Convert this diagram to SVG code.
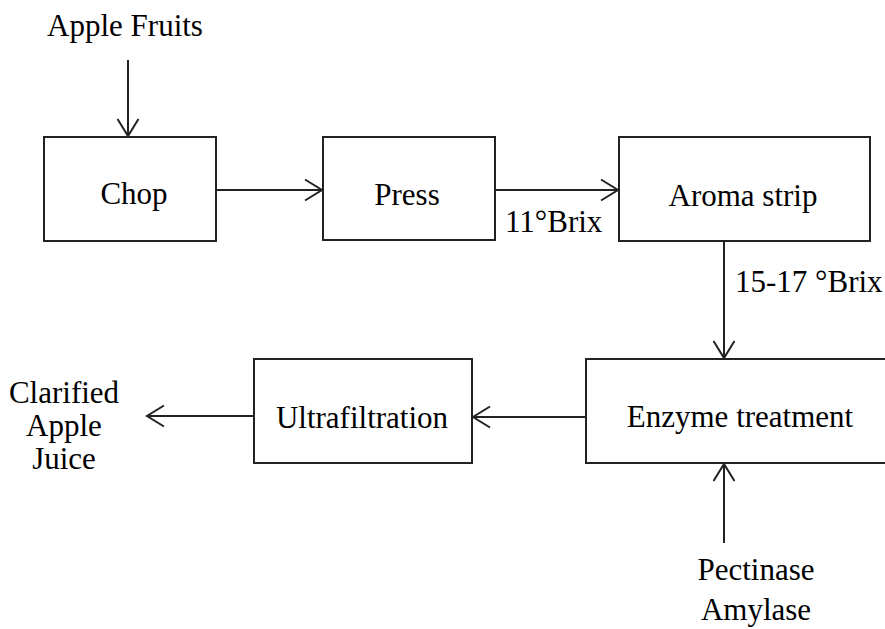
<svg xmlns="http://www.w3.org/2000/svg" width="885" height="629" viewBox="0 0 885 629">
<style>
text{font-family:"Liberation Serif","Times New Roman",serif;font-size:31px;fill:#000}
.box{fill:#fff;stroke:#222;stroke-width:2}
.c{stroke:#222;stroke-width:2;fill:none}
.m{text-anchor:middle}
</style>
<defs>
<marker id="ah" markerUnits="userSpaceOnUse" viewBox="0 0 20 24" markerWidth="20" markerHeight="24" refX="19" refY="12" orient="auto" overflow="visible">
<path d="M2,1.5 L19,12 L2,22.5" fill="none" stroke="#222" stroke-width="2"/>
</marker>
</defs>
<rect width="885" height="629" fill="#fff"/>
<g id="connectors">
<line class="c" x1="128" y1="60" x2="128" y2="136" marker-end="url(#ah)"/>
<line class="c" x1="216" y1="190" x2="322" y2="190" marker-end="url(#ah)"/>
<line class="c" x1="495" y1="190" x2="618" y2="190" marker-end="url(#ah)"/>
<line class="c" x1="724" y1="241" x2="724" y2="358" marker-end="url(#ah)"/>
<line class="c" x1="586" y1="417" x2="473" y2="417" marker-end="url(#ah)"/>
<line class="c" x1="254" y1="416" x2="147" y2="416" marker-end="url(#ah)"/>
<line class="c" x1="724" y1="543" x2="724" y2="464" marker-end="url(#ah)"/>
<text x="505" y="232">11°Brix</text>
<text x="735" y="292">15-17 °Brix</text>
</g>
<g id="apple-fruits"><text class="m" x="125" y="36">Apple Fruits</text></g>
<g id="chop"><rect class="box" x="44" y="137" width="172" height="104"/><text class="m" x="134" y="204">Chop</text></g>
<g id="press"><rect class="box" x="323" y="137" width="172" height="103"/><text class="m" x="407" y="205">Press</text></g>
<g id="aroma-strip"><rect class="box" x="619" y="137" width="251" height="104"/><text class="m" x="743" y="206">Aroma strip</text></g>
<g id="enzyme-treatment"><rect class="box" x="586" y="359" width="310" height="104"/><text class="m" x="740" y="427">Enzyme treatment</text></g>
<g id="ultrafiltration"><rect class="box" x="254" y="359" width="218" height="104"/><text class="m" x="362" y="428">Ultrafiltration</text></g>
<g id="clarified-apple-juice"><text class="m" x="64" y="403">Clarified</text><text class="m" x="64" y="436">Apple</text><text class="m" x="64" y="469">Juice</text></g>
<g id="pectinase-amylase"><text class="m" x="756" y="580">Pectinase</text><text class="m" x="756" y="620">Amylase</text></g>
</svg>
